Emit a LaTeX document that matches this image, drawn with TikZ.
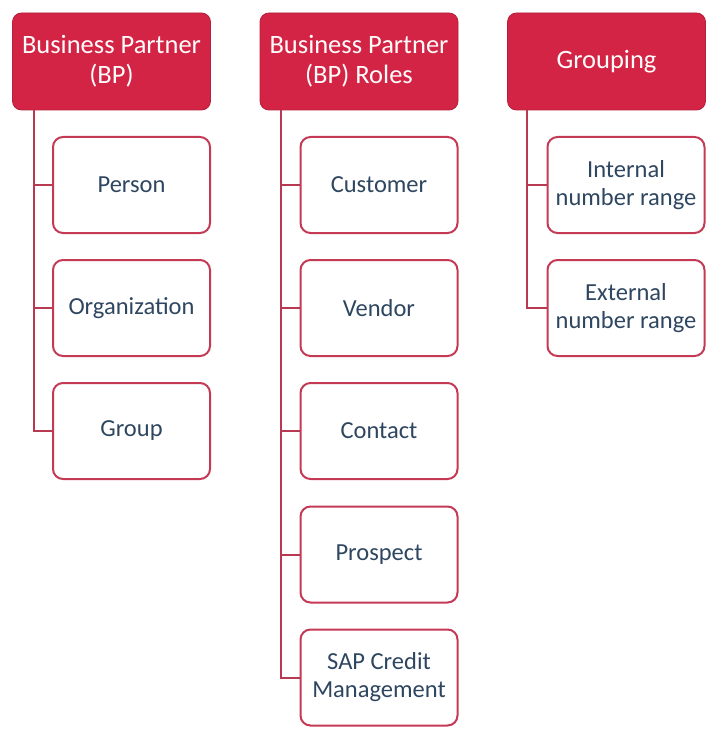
\documentclass[tikz,border=0pt]{standalone}
\usepackage{fontspec}
\setmainfont{Carlito}
\definecolor{hdr}{HTML}{D42445}
\definecolor{bord}{HTML}{C43A55}
\definecolor{lnk}{HTML}{B83A52}
\definecolor{txt}{HTML}{2E4660}
\tikzset{
  hdrbox/.style={draw=hdr!85!black, line width=0.8pt, fill=hdr, rounded corners=9pt, minimum width=198pt, minimum height=97pt, inner sep=0pt, align=center, text=white!95!pink, font=\fontsize{26.5}{30}\selectfont},
  childbox/.style={draw=bord, line width=2pt, fill=white, rounded corners=10pt, minimum width=157pt, minimum height=96pt, inner sep=0pt, align=center, text=txt, font=\fontsize{24.5}{28}\selectfont},
  link/.style={draw=lnk, line width=2pt}
}
\begin{document}
\begin{tikzpicture}[x=1pt,y=-1pt]
\useasboundingbox (0,0) rectangle (720,738);
% headers
\node[hdrbox] (bp) at (111.5,61.5) {Business Partner\\(BP)};
\node[hdrbox] (roles) at (359,61.5) {Business Partner\\(BP) Roles};
\node[hdrbox] (grp) at (606.5,61.5) {Grouping};
% left children
\node[childbox] (person) at (131.5,185) {Person};
\node[childbox] (org) at (131.5,308) {Organization};
\node[childbox] (group) at (131.5,431) {Group};
% middle children
\node[childbox] (cust) at (379,185) {Customer};
\node[childbox] (vend) at (379,308) {Vendor};
\node[childbox] (cont) at (379,431) {Contact};
\node[childbox] (prosp) at (379,554.5) {Prospect};
\node[childbox] (sap) at (379,677.5) {SAP Credit\\Management};
% right children
\node[childbox] (intn) at (626,185) {Internal\\number range};
\node[childbox] (extn) at (626,308) {External\\number range};
% connectors
\foreach \c in {person,org,group}
  \draw[link] ([xshift=21.5pt]bp.south west) |- (\c.west);
\foreach \c in {cust,vend,cont,prosp,sap}
  \draw[link] ([xshift=21pt]roles.south west) |- (\c.west);
\foreach \c in {intn,extn}
  \draw[link] ([xshift=19.5pt]grp.south west) |- (\c.west);
\end{tikzpicture}
\end{document}
